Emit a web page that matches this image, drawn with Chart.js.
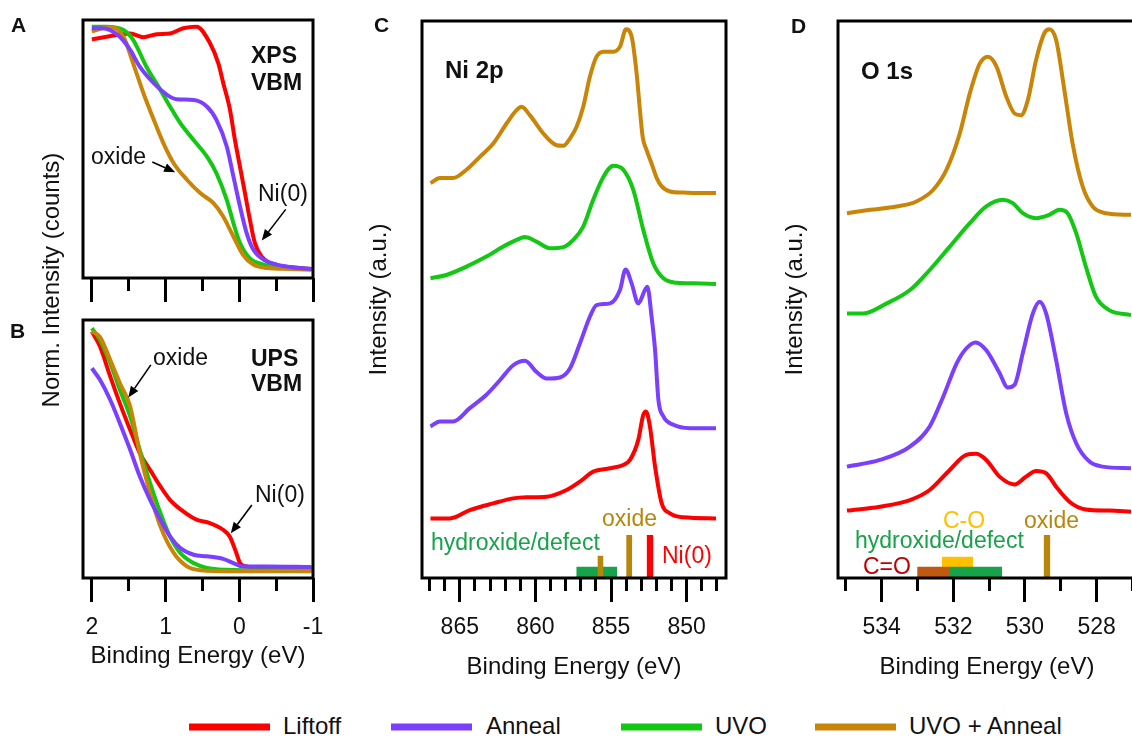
<!DOCTYPE html>
<html>
<head>
<meta charset="utf-8">
<title>Ni oxide XPS / UPS spectra</title>
<script src="https://cdn.jsdelivr.net/npm/chart.js@4.4.1/dist/chart.umd.min.js"></script>
<style>
  html, body { margin: 0; padding: 0; background: #fff; overflow: hidden; }
  body { position: relative; width: 1132px; height: 737px; font-family: "Liberation Sans", Arial, sans-serif; color: #111; }
  canvas { position: absolute; }
  .lbl { position: absolute; line-height: 1; white-space: nowrap; transform: translateY(-50%); font-size: 23px; }
  .bold { font-weight: bold; }
  .panel-id { font-size: 21px; font-weight: bold; }
  .ytitle { position: absolute; font-size: 24px; line-height: 1; white-space: nowrap; transform: translate(-50%, -50%) rotate(-90deg); }
  .key { position: absolute; height: 7px; width: 81px; transform: translateY(-50%); }
  .key-text { font-size: 24px; }
</style>
</head>
<body>
<canvas id="chartA" width="340" height="320" style="left:0;top:0"></canvas>
<canvas id="chartB" width="340" height="380" style="left:0;top:300px"></canvas>
<canvas id="chartC" width="420" height="680" style="left:340px;top:0"></canvas>
<canvas id="chartD" width="400" height="680" style="left:760px;top:0"></canvas>

<!-- panel letters -->
<div class="lbl panel-id" style="left:11px;top:24px">A</div>
<div class="lbl panel-id" style="left:10px;top:330px">B</div>
<div class="lbl panel-id" style="left:374px;top:24px">C</div>
<div class="lbl panel-id" style="left:791px;top:25px">D</div>

<div class="ytitle" style="left:51px;top:280px">Norm. Intensity (counts)</div>

<!-- A / B notes -->
<div class="lbl bold" style="left:251px;top:55px">XPS</div>
<div class="lbl bold" style="left:251px;top:82px">VBM</div>
<div class="lbl" style="left:91px;top:156px">oxide</div>
<div class="lbl" style="left:258px;top:193px">Ni(0)</div>
<div class="lbl bold" style="left:251px;top:358px">UPS</div>
<div class="lbl bold" style="left:251px;top:383px">VBM</div>
<div class="lbl" style="left:153px;top:357px">oxide</div>
<div class="lbl" style="left:255px;top:494px">Ni(0)</div>

<!-- C notes -->
<div class="lbl bold" style="left:445px;top:70px;font-size:24px">Ni 2p</div>
<div class="lbl" style="left:431px;top:542px;color:#17a34a">hydroxide/defect</div>
<div class="lbl" style="left:602px;top:518px;color:#b8860b">oxide</div>
<div class="lbl" style="left:662px;top:555px;color:#ff0000">Ni(0)</div>

<!-- D notes -->
<div class="lbl bold" style="left:861px;top:71px;font-size:24px">O 1s</div>
<div class="lbl" style="left:943px;top:520px;color:#ffc000">C-O</div>
<div class="lbl" style="left:1024px;top:520px;color:#b8860b">oxide</div>
<div class="lbl" style="left:855px;top:540px;color:#17a34a">hydroxide/defect</div>
<div class="lbl" style="left:863px;top:566px;color:#c00000">C=O</div>

<!-- legend -->
<div class="key" style="left:189px;top:727px;background:#ff0000"></div>
<div class="lbl key-text" style="left:283px;top:726px">Liftoff</div>
<div class="key" style="left:391px;top:727px;background:#7b3fff"></div>
<div class="lbl key-text" style="left:486px;top:726px">Anneal</div>
<div class="key" style="left:621px;top:727px;background:#12c812"></div>
<div class="lbl key-text" style="left:715px;top:726px">UVO</div>
<div class="key" style="left:815px;top:727px;background:#c98508"></div>
<div class="lbl key-text" style="left:909px;top:726px">UVO + Anneal</div>

<script>
const seriesNames = ["Liftoff", "Anneal", "UVO", "UVO + Anneal"];
const seriesColors = ["#ff0000", "#7b3fff", "#12c812", "#c98508"];
const drawOrder = [3, 0, 2, 1]; // anneal on top

// A - XPS valence band, [binding energy eV, normalised counts]
const xpsLiftoff = [[2.0,0.925],[1.8,0.935],[1.48,0.948],[1.3,0.933],[1.12,0.945],[0.94,0.948],[0.76,0.968],[0.58,0.974],[0.397,0.91],[0.284,0.832],[0.217,0.755],[0.126,0.652],[0.059,0.535],[-0.009,0.432],[-0.077,0.329],[-0.144,0.226],[-0.212,0.135],[-0.302,0.084],[-0.415,0.058],[-0.6,0.045],[-0.82,0.039],[-0.98,0.035]];
const xpsAnneal = [[2.0,0.968],[1.86,0.968],[1.75,0.961],[1.62,0.935],[1.48,0.884],[1.35,0.819],[1.16,0.755],[0.98,0.71],[0.85,0.693],[0.62,0.69],[0.44,0.665],[0.31,0.613],[0.17,0.51],[0.08,0.394],[-0.01,0.277],[-0.1,0.174],[-0.19,0.11],[-0.33,0.071],[-0.51,0.052],[-0.73,0.041],[-0.98,0.035]];
const xpsUvo = [[2.0,0.974],[1.8,0.974],[1.57,0.961],[1.44,0.923],[1.26,0.819],[1.07,0.729],[0.94,0.665],[0.8,0.6],[0.62,0.535],[0.44,0.471],[0.31,0.406],[0.17,0.303],[0.08,0.213],[-0.01,0.135],[-0.14,0.077],[-0.33,0.052],[-0.6,0.039],[-0.98,0.035]];
const xpsUvoAnneal = [[2.0,0.955],[1.86,0.968],[1.73,0.972],[1.57,0.935],[1.44,0.832],[1.3,0.716],[1.16,0.613],[1.03,0.523],[0.89,0.445],[0.71,0.381],[0.53,0.329],[0.35,0.29],[0.22,0.239],[0.08,0.161],[-0.05,0.09],[-0.19,0.052],[-0.37,0.039],[-0.69,0.035],[-0.98,0.032]];

// B - UPS valence band
const upsLiftoff = [[2.0,0.955],[1.89,0.897],[1.75,0.781],[1.62,0.677],[1.48,0.574],[1.35,0.484],[1.21,0.419],[1.07,0.355],[0.94,0.303],[0.76,0.258],[0.58,0.226],[0.4,0.213],[0.22,0.187],[0.13,0.161],[0.04,0.097],[-0.01,0.058],[-0.1,0.045],[-0.37,0.039],[-0.98,0.039]];
const upsAnneal = [[2.0,0.813],[1.89,0.768],[1.75,0.69],[1.62,0.6],[1.48,0.497],[1.35,0.394],[1.21,0.303],[1.07,0.226],[0.94,0.161],[0.8,0.116],[0.62,0.09],[0.44,0.084],[0.22,0.074],[0.08,0.058],[-0.05,0.045],[-0.37,0.045],[-0.98,0.043]];
const upsUvo = [[2.0,0.968],[1.89,0.923],[1.75,0.832],[1.62,0.729],[1.48,0.626],[1.35,0.497],[1.21,0.368],[1.07,0.252],[0.94,0.161],[0.8,0.097],[0.62,0.058],[0.44,0.039],[0.17,0.032],[-0.37,0.03],[-0.98,0.03]];
const upsUvoAnneal = [[2.0,0.955],[1.89,0.935],[1.75,0.845],[1.62,0.755],[1.48,0.665],[1.35,0.484],[1.21,0.329],[1.07,0.2],[0.89,0.097],[0.71,0.045],[0.53,0.03],[0.08,0.026],[-0.98,0.026]];

// C - Ni 2p, stacked with offsets (a.u.)
const ni2pLiftoff = [[866.94,10.7],[865.66,10.7],[864.34,12.2],[862.79,13.4],[861.47,14.3],[860.59,14.5],[859.26,14.6],[857.94,15.8],[857.06,17.3],[856.18,19.1],[855.07,19.7],[854.19,20.3],[853.75,21.2],[853.2,24.8],[852.87,29.3],[852.69,29.9],[852.43,27.2],[852.09,20.0],[851.65,13.4],[851.1,11.6],[850.22,10.9],[848.06,10.7]];
const ni2pAnneal = [[866.94,27.2],[866.32,28.1],[865.44,28.1],[864.34,30.5],[863.24,32.9],[862.35,35.5],[861.47,38.2],[860.7,39.0],[859.93,37.0],[859.26,35.8],[858.38,36.0],[857.72,37.6],[857.06,42.1],[856.4,46.9],[855.96,49.0],[855.07,49.3],[854.41,51.7],[854.04,55.4],[853.64,52.9],[853.2,49.3],[852.76,51.7],[852.6,52.3],[852.32,46.9],[852.09,40.9],[851.87,32.0],[851.54,29.0],[850.88,27.5],[849.78,26.9],[848.06,26.9]];
const ni2pUvo = [[866.94,53.8],[865.88,54.4],[864.56,55.9],[863.24,57.7],[862.13,59.5],[861.25,60.7],[860.7,61.2],[859.93,60.4],[859.04,59.2],[858.16,59.4],[857.5,60.7],[856.84,63.1],[856.18,67.9],[855.51,72.0],[854.85,74.0],[854.19,73.3],[853.53,69.7],[852.87,62.5],[852.21,56.5],[851.54,53.8],[850.66,53.0],[849.56,52.9],[848.06,52.8]];
const ni2pUvoAnneal = [[866.94,70.9],[866.32,71.8],[865.44,71.8],[864.56,73.3],[863.68,75.6],[862.79,78.0],[861.91,81.6],[861.25,84.0],[860.92,84.6],[860.37,83.1],[859.48,79.8],[858.6,77.7],[858.16,77.6],[857.72,78.9],[857.28,81.0],[856.84,84.6],[856.4,90.0],[855.96,93.6],[855.51,94.5],[854.85,94.5],[854.41,95.4],[854.01,98.5],[853.64,97.2],[853.31,90.6],[853.09,84.0],[852.91,79.2],[852.65,76.8],[852.32,74.4],[851.98,71.8],[851.65,70.3],[851.1,69.4],[850.22,69.2],[849.34,69.1],[848.06,69.1]];

// D - O 1s
const o1sLiftoff = [[534.97,12.1],[534.05,12.8],[533.21,14.0],[532.66,15.8],[532.1,19.4],[531.64,22.1],[531.36,22.3],[531.08,21.2],[530.71,18.2],[530.29,16.8],[529.97,18.2],[529.69,19.2],[529.41,18.8],[529.13,16.4],[528.76,13.7],[528.3,12.3],[527.65,12.1],[527.04,11.9]];
const o1sAnneal = [[534.97,20.0],[534.05,21.2],[533.21,23.6],[532.66,27.2],[532.28,32.6],[531.91,38.5],[531.64,41.2],[531.38,42.3],[531.08,40.9],[530.71,36.8],[530.48,34.2],[530.29,34.7],[530.06,40.4],[529.78,47.5],[529.59,49.6],[529.41,47.5],[529.13,39.1],[528.85,29.6],[528.57,24.2],[528.2,20.9],[527.83,20.0],[527.04,19.7]];
const o1sUvo = [[534.97,47.5],[534.51,47.5],[533.86,49.3],[533.21,51.7],[532.66,55.3],[532.1,59.5],[531.54,63.7],[531.08,66.7],[530.62,67.9],[530.34,67.3],[530.06,65.5],[529.69,64.6],[529.32,65.2],[529.04,66.1],[528.81,65.5],[528.57,61.9],[528.3,55.9],[528.02,50.5],[527.65,48.1],[527.04,47.2]];
const o1sUvoAnneal = [[534.97,65.5],[534.32,66.1],[533.58,66.7],[533.03,67.6],[532.56,69.7],[532.19,73.3],[531.82,79.8],[531.54,87.0],[531.26,92.4],[531.03,93.6],[530.8,91.9],[530.52,86.4],[530.29,83.4],[530.11,83.1],[529.92,85.8],[529.69,93.0],[529.46,97.8],[529.32,98.5],[529.13,96.6],[528.9,87.6],[528.67,78.0],[528.39,70.3],[528.11,66.7],[527.74,65.5],[527.04,65.2]];

// tick values
const vbmTicks = [2, 1, 0, -1];
const vbmMinorTicks = [1.5, 0.5, -0.5];
const ni2pTicks = [865, 860, 855, 850];
const ni2pMinorTicks = [867, 866, 864, 863, 862, 861, 859, 858, 857, 856, 854, 853, 852, 851, 849, 848];
const o1sTicks = [534, 532, 530, 528];
const o1sMinorTicks = [535, 533, 531, 529, 527];

// reference binding-energy ranges (from eV, to eV, bar height)
const refColors = { hydroxide: "#17a34a", oxide: "#b8860b", ni0: "#ff0000", co: "#ffc000", cdo: "#c05a10" };
const ni2pRefKind = ["hydroxide", "oxide", "oxide", "ni0"];
const ni2pRefFrom = [857.3, 855.9, 854.0, 852.65];
const ni2pRefTo = [854.6, 855.5, 853.6, 852.2];
const ni2pRefHeight = [2.0, 4.0, 7.7, 7.7];
const o1sRefKind = ["co", "cdo", "hydroxide", "oxide"];
const o1sRefFrom = [532.32, 533.01, 532.12, 529.48];
const o1sRefTo = [531.45, 532.1, 530.64, 529.29];
const o1sRefHeight = [3.8, 2.0, 2.0, 7.7];

// annotation arrows [x0, y0, x1 (head), y1]
const xpsArrows = [[1.18, 0.45, 0.87, 0.41], [-0.63, 0.266, -0.305, 0.145]];
const upsArrows = [[1.2, 0.826, 1.505, 0.7], [-0.17, 0.283, 0.115, 0.173]];

const FONT = "'Liberation Sans', Arial, sans-serif";
Chart.defaults.font.family = FONT;
Chart.defaults.color = "#111";

const framePlugin = {
    id: "frame",
    afterDatasetsDraw(chart) {
        const { ctx, chartArea: a } = chart;
        ctx.save();
        ctx.strokeStyle = "#000";
        ctx.lineWidth = 3;
        ctx.strokeRect(a.left, a.top, a.right - a.left, a.bottom - a.top);
        ctx.restore();
    },
};

function arrowPlugin(items) {
    return {
        id: "arrows",
        afterDatasetsDraw(chart) {
            const { ctx } = chart;
            const xs = chart.scales.x;
            const ys = chart.scales.y;
            ctx.save();
            ctx.strokeStyle = "#000";
            ctx.fillStyle = "#000";
            ctx.lineWidth = 1.6;
            items.forEach(([x0, y0, x1, y1]) => {
                const p0x = xs.getPixelForValue(x0), p0y = ys.getPixelForValue(y0);
                const p1x = xs.getPixelForValue(x1), p1y = ys.getPixelForValue(y1);
                const ang = Math.atan2(p1y - p0y, p1x - p0x);
                const head = 11, half = 4.5;
                const bx = p1x - head * Math.cos(ang), by = p1y - head * Math.sin(ang);
                ctx.beginPath();
                ctx.moveTo(p0x, p0y);
                ctx.lineTo(bx, by);
                ctx.stroke();
                ctx.beginPath();
                ctx.moveTo(p1x, p1y);
                ctx.lineTo(bx + half * Math.sin(ang), by - half * Math.cos(ang));
                ctx.lineTo(bx - half * Math.sin(ang), by + half * Math.cos(ang));
                ctx.closePath();
                ctx.fill();
            });
            ctx.restore();
        },
    };
}

function curve(points, i) {
    return {
        label: seriesNames[i],
        data: points.map(([x, y]) => ({ x, y })),
        borderColor: seriesColors[i],
        borderWidth: 4,
        pointRadius: 0,
        fill: false,
        cubicInterpolationMode: "monotone",
        order: drawOrder[i],
    };
}

function refBars(kinds, from, to, heights) {
    return kinds.map((kind, i) => ({
        label: kind,
        data: [
            { x: from[i], y: 0 },
            { x: from[i], y: heights[i] },
            { x: to[i], y: heights[i] },
            { x: to[i], y: 0 },
        ],
        borderColor: "transparent",
        borderWidth: 0,
        backgroundColor: refColors[kind],
        fill: "origin",
        pointRadius: 0,
        tension: 0,
        order: 20 - i,
    }));
}

function makePanel(id, cfg) {
    const tickFont = { size: 23, lineHeight: 1 };
    const scales = {
        x: {
            type: "linear",
            position: "bottom",
            weight: 1,
            reverse: true,
            min: cfg.xMin,
            max: cfg.xMax,
            afterBuildTicks: (s) => { s.ticks = cfg.ticks.map((v) => ({ value: v })); },
            afterFit: (s) => { s.height = cfg.axisHeight; },
            grid: { drawOnChartArea: false, drawTicks: true, tickLength: 24, tickWidth: 3, tickColor: "#000" },
            border: { display: false },
            ticks: { display: cfg.showLabels, font: tickFont, color: "#111", padding: 14.5, maxRotation: 0, autoSkip: false },
            title: {
                display: cfg.showLabels,
                text: "Binding Energy (eV)",
                font: { size: 24, lineHeight: 1 },
                color: "#111",
                padding: { top: 0, bottom: cfg.titlePad || 0 },
            },
        },
        xMinor: {
            type: "linear",
            position: "bottom",
            weight: 0,
            reverse: true,
            min: cfg.xMin,
            max: cfg.xMax,
            afterBuildTicks: (s) => { s.ticks = cfg.minorTicks.map((v) => ({ value: v })); },
            afterFit: (s) => { s.height = 0; },
            grid: { drawOnChartArea: false, drawTicks: true, tickLength: 13, tickWidth: 3, tickColor: "#000" },
            border: { display: false },
            ticks: { display: false },
        },
        y: {
            min: cfg.yMin,
            max: cfg.yMax,
            display: !!cfg.yTitle,
            afterFit: (s) => { if (cfg.yWidth) s.width = cfg.yWidth; },
            grid: { display: false },
            border: { display: false },
            ticks: { display: false },
            title: {
                display: !!cfg.yTitle,
                text: cfg.yTitle || "",
                font: { size: 24, lineHeight: 1 },
                color: "#111",
                padding: 0,
            },
        },
    };
    return new Chart(document.getElementById(id), {
        type: "line",
        data: { datasets: cfg.datasets },
        options: {
            responsive: false,
            animation: false,
            events: [],
            layout: { padding: cfg.padding },
            plugins: { legend: { display: false }, tooltip: { enabled: false } },
            scales,
        },
        plugins: [framePlugin, arrowPlugin(cfg.arrows || [])],
    });
}

makePanel("chartA", {
    datasets: [xpsLiftoff, xpsAnneal, xpsUvo, xpsUvoAnneal].map(curve),
    xMin: -1, xMax: 2.12, yMin: 0, yMax: 1,
    ticks: vbmTicks, minorTicks: vbmMinorTicks,
    showLabels: false, axisHeight: 42,
    padding: { left: 83, right: 27, top: 20, bottom: 0 },
    arrows: xpsArrows,
});

makePanel("chartB", {
    datasets: [upsLiftoff, upsAnneal, upsUvo, upsUvoAnneal].map(curve),
    xMin: -1, xMax: 2.12, yMin: 0, yMax: 1,
    ticks: vbmTicks, minorTicks: vbmMinorTicks,
    showLabels: true, axisHeight: 102, titlePad: 12,
    padding: { left: 83, right: 27, top: 20, bottom: 0 },
    arrows: upsArrows,
});

makePanel("chartC", {
    datasets: [ni2pLiftoff, ni2pAnneal, ni2pUvo, ni2pUvoAnneal].map(curve)
        .concat(refBars(ni2pRefKind, ni2pRefFrom, ni2pRefTo, ni2pRefHeight)),
    xMin: 847.4, xMax: 867.5, yMin: 0, yMax: 100,
    ticks: ni2pTicks, minorTicks: ni2pMinorTicks,
    showLabels: true, axisHeight: 102, titlePad: 1,
    yTitle: "Intensity (a.u.)", yWidth: 55,
    padding: { left: 27, right: 34, top: 21, bottom: 0 },
});

makePanel("chartD", {
    datasets: [o1sLiftoff, o1sAnneal, o1sUvo, o1sUvoAnneal].map(curve)
        .concat(refBars(o1sRefKind, o1sRefFrom, o1sRefTo, o1sRefHeight)),
    xMin: 526.9, xMax: 535.22, yMin: 0, yMax: 100,
    ticks: o1sTicks, minorTicks: o1sMinorTicks,
    showLabels: true, axisHeight: 102, titlePad: 1,
    yTitle: "Intensity (a.u.)", yWidth: 55,
    padding: { left: 23, right: 24, top: 21, bottom: 0 },
});
</script>
</body>
</html>
